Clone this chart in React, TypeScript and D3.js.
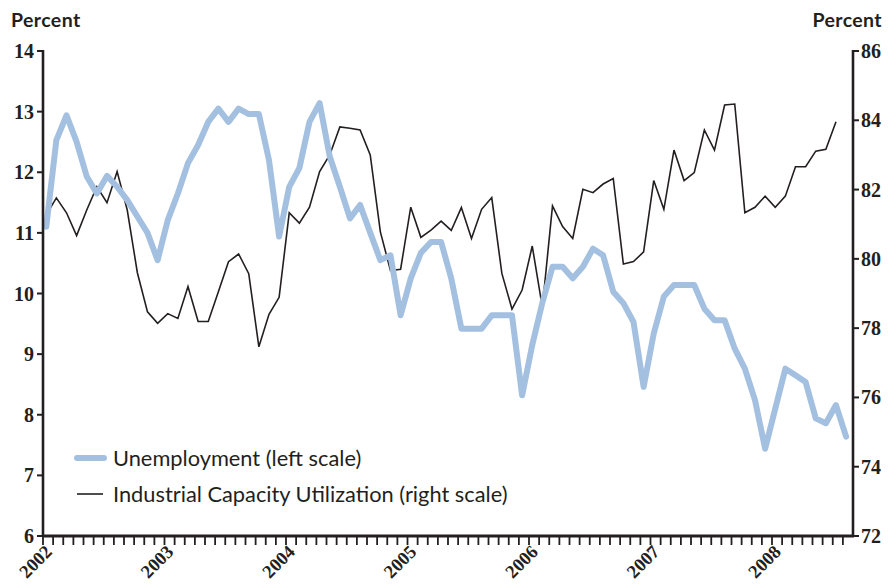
import * as d3 from "d3";

const years = ["2002", "2003", "2004", "2005", "2006", "2007", "2008"];
const leftTicks = [6, 7, 8, 9, 10, 11, 12, 13, 14];
const rightTicks = [72, 74, 76, 78, 80, 82, 84, 86];

// monthly, Jan 2002 - Aug 2008
const unemployment = [
  11.1, 12.53, 12.94, 12.5, 11.93, 11.65, 11.94, 11.76, 11.54, 11.27, 11.0, 10.55,
  11.21, 11.65, 12.15, 12.45, 12.83, 13.05, 12.83, 13.05, 12.96, 12.96, 12.2, 10.94,
  11.76, 12.07, 12.83, 13.14, 12.26, 11.76, 11.24, 11.46, 11.0, 10.55, 10.63, 9.64,
  10.25, 10.67, 10.85, 10.85, 10.25, 9.42, 9.42, 9.42, 9.64, 9.64, 9.64, 8.32,
  9.15, 9.85, 10.44, 10.44, 10.25, 10.44, 10.74, 10.63, 10.03, 9.84, 9.53, 8.46,
  9.34, 9.95, 10.14, 10.14, 10.14, 9.75, 9.56, 9.56, 9.09, 8.76, 8.24, 7.44,
  8.1, 8.76, 8.65, 8.54, 7.94, 7.86, 8.16, 7.64,
];

// monthly, Jan 2002 - Jul 2008
const capacity = [
  81.27, 81.76, 81.33, 80.67, 81.41, 82.08, 81.62, 82.52, 81.41, 79.6, 78.47, 78.14,
  78.42, 78.28, 79.2, 78.19, 78.19, 79.05, 79.92, 80.14, 79.57, 77.46, 78.4, 78.89,
  81.33, 81.03, 81.49, 82.52, 83.0, 83.81, 83.77, 83.72, 83.0, 80.78, 79.66, 79.7,
  81.49, 80.62, 80.83, 81.09, 80.82, 81.48, 80.59, 81.43, 81.77, 79.58, 78.55, 79.1,
  80.37, 78.6, 81.53, 80.93, 80.59, 82.01, 81.91, 82.16, 82.32, 79.85, 79.92, 80.2,
  82.26, 81.43, 83.14, 82.26, 82.49, 83.72, 83.14, 84.44, 84.47, 81.33, 81.49, 81.81,
  81.49, 81.81, 82.66, 82.66, 83.11, 83.16, 83.96,
];

const months = 80;
const ink = "#231f20";
const blue = "#a4c0e0";

export default function App() {
  const x = d3.scaleLinear().domain([0, months]).range([43, 853]);
  const yL = d3.scaleLinear().domain([6, 14]).range([536, 51]);
  const yR = d3.scaleLinear().domain([72, 86]).range([536, 51]);
  const off = 0.32;

  const uLine = d3
    .line<number>()
    .x((_, i) => x(i + off))
    .y((d) => yL(d));
  const cLine = d3
    .line<number>()
    .x((_, i) => x(i + off))
    .y((d) => yR(d));

  const sans = "Lato, 'Open Sans', sans-serif";
  const serif = "'Liberation Serif', 'DejaVu Serif', serif";

  return (
    <svg
      width={890}
      height={586}
      style={{ position: "absolute", left: 0, top: 0, background: "#fff" }}
    >
      <text x={11} y={27} fontFamily={sans} fontWeight="bold" fontSize={19.5} letterSpacing={0.4} fill={ink}>
        Percent
      </text>
      <text
        x={882}
        y={27}
        textAnchor="end"
        fontFamily={sans}
        fontWeight="bold"
        fontSize={19.5}
        letterSpacing={0.4}
        fill={ink}
      >
        Percent
      </text>

      <path d={cLine(capacity) ?? ""} fill="none" stroke={ink} strokeWidth={1.6} strokeLinejoin="miter" />
      <path
        d={uLine(unemployment) ?? ""}
        fill="none"
        stroke={blue}
        strokeWidth={6}
        strokeLinejoin="round"
        strokeLinecap="round"
      />

      {/* left axis */}
      <line x1={43} x2={43} y1={50} y2={537} stroke={ink} strokeWidth={2.6} />
      {leftTicks.map((t) => (
        <g key={t}>
          <line x1={37} x2={43} y1={yL(t)} y2={yL(t)} stroke={ink} strokeWidth={2} />
          <text
            x={34}
            y={yL(t)}
            dy="0.35em"
            textAnchor="end"
            fontFamily={serif}
            fontWeight="bold"
            fontSize={20}
            fill={ink}
          >
            {t}
          </text>
        </g>
      ))}

      {/* right axis */}
      <line x1={853} x2={853} y1={50} y2={537} stroke={ink} strokeWidth={2.6} />
      {rightTicks.map((t) => (
        <g key={t}>
          <line x1={853} x2={859} y1={yR(t)} y2={yR(t)} stroke={ink} strokeWidth={2} />
          <text
            x={861}
            y={yR(t)}
            dy="0.35em"
            fontFamily={serif}
            fontWeight="bold"
            fontSize={20}
            fill={ink}
          >
            {t}
          </text>
        </g>
      ))}

      {/* bottom axis */}
      <line x1={42} x2={854} y1={536} y2={536} stroke={ink} strokeWidth={2.8} />
      {d3.range(months).map((m) => (
        <line
          key={m}
          x1={x(m)}
          x2={x(m)}
          y1={536}
          y2={545}
          stroke={ink}
          strokeWidth={1.8}
        />
      ))}
      {years.map((yr, k) => (
        <text
          key={yr}
          transform={`translate(${x(k * 12) + 10},${553}) rotate(-45)`}
          textAnchor="end"
          fontFamily={serif}
          fontWeight="bold"
          fontSize={18.5}
          fill={ink}
        >
          {yr}
        </text>
      ))}

      {/* legend */}
      <line x1={77} x2={104} y1={458} y2={458} stroke={blue} strokeWidth={6} strokeLinecap="round" />
      <text x={113} y={466} fontFamily={sans} fontSize={21.8} fill={ink}>
        Unemployment (left scale)
      </text>
      <line x1={77} x2={103} y1={494} y2={494} stroke={ink} strokeWidth={1.6} />
      <text x={113} y={502} fontFamily={sans} fontSize={21.8} fill={ink}>
        Industrial Capacity Utilization (right scale)
      </text>
    </svg>
  );
}
